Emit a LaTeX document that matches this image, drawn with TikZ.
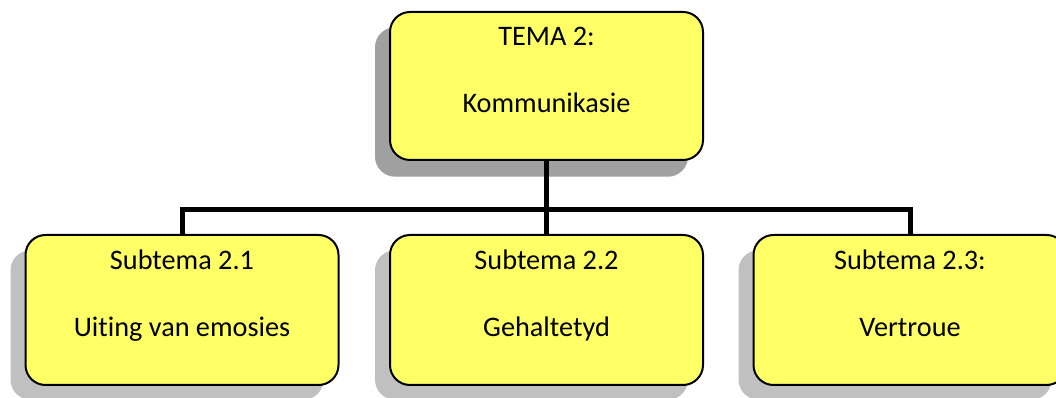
\documentclass[tikz,border=0pt]{standalone}
\usepackage{fontspec}
\setmainfont[Ligatures=NoCommon]{Carlito}
\definecolor{boxfill}{HTML}{FFFF66}
\definecolor{shadowdark}{HTML}{A0A0A0}
\definecolor{shadowlight}{HTML}{C0C0C0}
\begin{document}
\begin{tikzpicture}[x=0.75pt,y=-0.75pt,
  topicbox/.style={draw=black, line width=1.5pt, fill=boxfill, rounded corners=15pt,
    minimum width=234.75pt, minimum height=#1, inner sep=0pt},
  shadowbox/.style={fill=#1, rounded corners=15pt, inner sep=0pt,
    minimum width=234.75pt, minimum height=112pt},
  caption/.style={anchor=base, inner sep=0pt, font=\fontsize{21.2}{25}\selectfont},
  link/.style={line width=3.75pt, line cap=butt}]
  \useasboundingbox (0,0) rectangle (1056,398);
  \clip (0,0) rectangle (1056,398);

  % drop shadows
  \node[shadowbox=shadowdark]  (s0) at (531.5,102) {};
  \node[shadowbox=shadowlight] (s1) at (167,325) {};
  \node[shadowbox=shadowlight] (s2) at (531.5,325) {};
  \node[shadowbox=shadowlight] (s3) at (895,325) {};

  % tree connectors
  \coordinate (bar) at (546.5,210);
  \coordinate (barL) at (182,210);
  \coordinate (barR) at (910,210);

  % boxes
  \node[topicbox=111pt]   (main) at (546.5,86)  {};
  \node[topicbox=112.5pt] (sub1) at (182,310)   {};
  \node[topicbox=112.5pt] (sub2) at (546.5,310) {};
  \node[topicbox=112.5pt] (sub3) at (910,310)   {};

  \draw[link] (main.south) -- (bar);
  \draw[link] ([xshift=-1.875pt]barL) -- ([xshift=1.875pt]barR);
  \draw[link] (barL) -- (sub1.north);
  \draw[link] (bar) -- (sub2.north);
  \draw[link] (barR) -- (sub3.north);

  % labels
  \node[caption] (t1) at (546.5,46)  {TEMA 2:};
  \node[caption] (t2) at (546.5,113) {Kommunikasie};
  \node[caption] (a1) at (182,270)   {Subtema 2.1};
  \node[caption] (a2) at (182,337)   {Uiting van emosies};
  \node[caption] (b1) at (546.5,270) {Subtema 2.2};
  \node[caption] (b2) at (546.5,337) {Gehaltetyd};
  \node[caption] (c1) at (910,270)   {Subtema 2.3:};
  \node[caption] (c2) at (910,337)   {Vertroue};
\end{tikzpicture}
\end{document}
